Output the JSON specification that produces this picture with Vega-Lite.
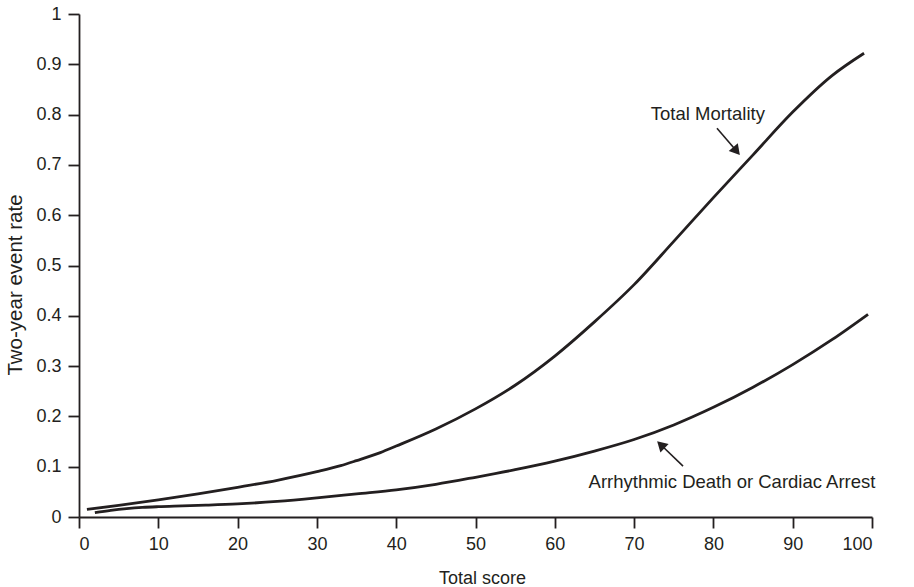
{
  "$schema": "https://vega.github.io/schema/vega-lite/v6.json",
  "width": 793,
  "height": 503,
  "autosize": "none",
  "padding": {"left": 79, "top": 14, "right": 42, "bottom": 70},
  "background": "white",
  "config": {
    "view": {"stroke": null},
    "font": "Liberation Sans",
    "axis": {
      "domainColor": "#231f20",
      "domainWidth": 1.8,
      "tickColor": "#231f20",
      "tickWidth": 1.8,
      "tickSize": 11,
      "grid": false,
      "labelColor": "#231f20",
      "labelFont": "Liberation Sans",
      "labelFontSize": 18,
      "titleColor": "#231f20",
      "titleFont": "Liberation Sans",
      "titleFontSize": 18,
      "titleFontWeight": "normal"
    }
  },
  "datasets": {
    "curves": [
      {"series": "Total Mortality", "score": 1, "rate": 0.015},
      {"series": "Total Mortality", "score": 5, "rate": 0.023},
      {"series": "Total Mortality", "score": 10, "rate": 0.034},
      {"series": "Total Mortality", "score": 15, "rate": 0.046},
      {"series": "Total Mortality", "score": 20, "rate": 0.059},
      {"series": "Total Mortality", "score": 25, "rate": 0.073},
      {"series": "Total Mortality", "score": 30, "rate": 0.09},
      {"series": "Total Mortality", "score": 33, "rate": 0.102},
      {"series": "Total Mortality", "score": 35, "rate": 0.112},
      {"series": "Total Mortality", "score": 38, "rate": 0.128},
      {"series": "Total Mortality", "score": 40, "rate": 0.141},
      {"series": "Total Mortality", "score": 45, "rate": 0.175},
      {"series": "Total Mortality", "score": 50, "rate": 0.215},
      {"series": "Total Mortality", "score": 55, "rate": 0.262},
      {"series": "Total Mortality", "score": 60, "rate": 0.32},
      {"series": "Total Mortality", "score": 65, "rate": 0.388},
      {"series": "Total Mortality", "score": 70, "rate": 0.462},
      {"series": "Total Mortality", "score": 75, "rate": 0.548},
      {"series": "Total Mortality", "score": 80, "rate": 0.635},
      {"series": "Total Mortality", "score": 85, "rate": 0.72},
      {"series": "Total Mortality", "score": 90, "rate": 0.805},
      {"series": "Total Mortality", "score": 95, "rate": 0.878},
      {"series": "Total Mortality", "score": 99, "rate": 0.922},
      {"series": "Arrhythmic Death or Cardiac Arrest", "score": 2, "rate": 0.0085},
      {"series": "Arrhythmic Death or Cardiac Arrest", "score": 4, "rate": 0.013},
      {"series": "Arrhythmic Death or Cardiac Arrest", "score": 6, "rate": 0.0165},
      {"series": "Arrhythmic Death or Cardiac Arrest", "score": 8, "rate": 0.019},
      {"series": "Arrhythmic Death or Cardiac Arrest", "score": 10, "rate": 0.0205},
      {"series": "Arrhythmic Death or Cardiac Arrest", "score": 13, "rate": 0.022},
      {"series": "Arrhythmic Death or Cardiac Arrest", "score": 16, "rate": 0.0235},
      {"series": "Arrhythmic Death or Cardiac Arrest", "score": 20, "rate": 0.026},
      {"series": "Arrhythmic Death or Cardiac Arrest", "score": 25, "rate": 0.031},
      {"series": "Arrhythmic Death or Cardiac Arrest", "score": 30, "rate": 0.038},
      {"series": "Arrhythmic Death or Cardiac Arrest", "score": 35, "rate": 0.046},
      {"series": "Arrhythmic Death or Cardiac Arrest", "score": 40, "rate": 0.054},
      {"series": "Arrhythmic Death or Cardiac Arrest", "score": 45, "rate": 0.065},
      {"series": "Arrhythmic Death or Cardiac Arrest", "score": 50, "rate": 0.079},
      {"series": "Arrhythmic Death or Cardiac Arrest", "score": 55, "rate": 0.094},
      {"series": "Arrhythmic Death or Cardiac Arrest", "score": 60, "rate": 0.111},
      {"series": "Arrhythmic Death or Cardiac Arrest", "score": 65, "rate": 0.131},
      {"series": "Arrhythmic Death or Cardiac Arrest", "score": 70, "rate": 0.154},
      {"series": "Arrhythmic Death or Cardiac Arrest", "score": 75, "rate": 0.183},
      {"series": "Arrhythmic Death or Cardiac Arrest", "score": 80, "rate": 0.218},
      {"series": "Arrhythmic Death or Cardiac Arrest", "score": 85, "rate": 0.258},
      {"series": "Arrhythmic Death or Cardiac Arrest", "score": 90, "rate": 0.303},
      {"series": "Arrhythmic Death or Cardiac Arrest", "score": 95, "rate": 0.353},
      {"series": "Arrhythmic Death or Cardiac Arrest", "score": 99.5, "rate": 0.403}
    ],
    "arrows": [
      {"label": "Total Mortality", "score": 80.45, "rate": 0.773, "score2": 82.92, "rate2": 0.7276},
      {"label": "Arrhythmic Death or Cardiac Arrest", "score": 76.17, "rate": 0.101, "score2": 73.37, "rate2": 0.1437}
    ],
    "labels": [
      {"label": "Total Mortality", "score": 79.3, "rate": 0.801},
      {"label": "Arrhythmic Death or Cardiac Arrest", "score": 82.35, "rate": 0.0696}
    ]
  },
  "layer": [
    {
      "data": {"name": "curves"},
      "mark": {"type": "line", "interpolate": "monotone", "color": "#231f20", "strokeWidth": 2.8},
      "encoding": {
        "x": {
          "field": "score", "type": "quantitative",
          "scale": {"domain": [0, 100], "nice": false, "zero": false},
          "axis": {
            "values": [0, 10, 20, 30, 40, 50, 60, 70, 80, 90, 100],
            "labelPadding": 7,
            "title": "Total score",
            "titleX": 403,
            "titleY": 66,
            "titleBaseline": "alphabetic",
            "titleAlign": "center"
          }
        },
        "y": {
          "field": "rate", "type": "quantitative",
          "scale": {"domain": [0, 1], "nice": false},
          "axis": {
            "values": [0, 0.1, 0.2, 0.3, 0.4, 0.5, 0.6, 0.7, 0.8, 0.9, 1],
            "format": "~g",
            "labelPadding": 7,
            "title": "Two-year event rate",
            "titleFontSize": 20.5,
            "titleX": -58,
            "titleY": 270.5,
            "titleAngle": -90,
            "titleAlign": "center",
            "titleBaseline": "alphabetic"
          }
        },
        "detail": {"field": "series"}
      }
    },
    {
      "data": {"name": "arrows"},
      "mark": {"type": "rule", "color": "#231f20", "strokeWidth": 1.6},
      "encoding": {
        "x": {"field": "score", "type": "quantitative"},
        "y": {"field": "rate", "type": "quantitative"},
        "x2": {"field": "score2"},
        "y2": {"field": "rate2"}
      }
    },
    {
      "data": {"name": "arrows"},
      "transform": [{"filter": "datum.label === 'Total Mortality'"}],
      "mark": {"type": "point", "shape": "triangle-up", "filled": true, "color": "#231f20", "opacity": 1, "size": 140, "angle": 140},
      "encoding": {
        "x": {"field": "score2", "type": "quantitative"},
        "y": {"field": "rate2", "type": "quantitative"}
      }
    },
    {
      "data": {"name": "arrows"},
      "transform": [{"filter": "datum.label !== 'Total Mortality'"}],
      "mark": {"type": "point", "shape": "triangle-up", "filled": true, "color": "#231f20", "opacity": 1, "size": 140, "angle": 314},
      "encoding": {
        "x": {"field": "score2", "type": "quantitative"},
        "y": {"field": "rate2", "type": "quantitative"}
      }
    },
    {
      "data": {"name": "labels"},
      "mark": {"type": "text", "align": "center", "baseline": "middle", "font": "Liberation Sans", "fontSize": 18.5, "color": "#231f20"},
      "encoding": {
        "x": {"field": "score", "type": "quantitative"},
        "y": {"field": "rate", "type": "quantitative"},
        "text": {"field": "label"}
      }
    }
  ]
}
